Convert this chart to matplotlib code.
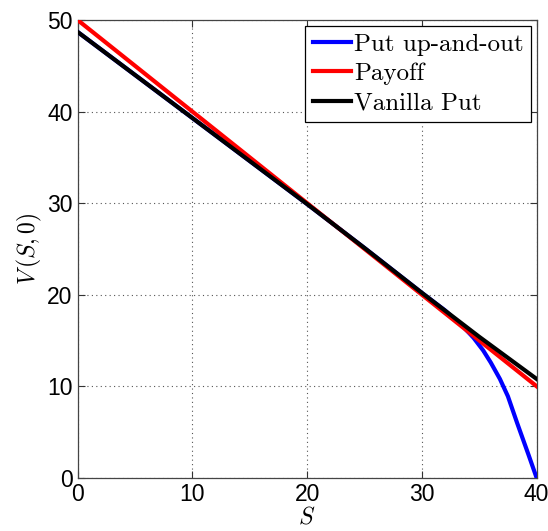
import matplotlib.pyplot as plt
import numpy as np

plt.rcParams['mathtext.fontset'] = 'cm'

# values
s_vanilla = [0, 10, 20, 25, 30, 35, 40]
v_vanilla = [48.7, 39.3, 29.9, 25.1, 20.2, 15.4, 10.8]

s_payoff = [0, 40]
v_payoff = [50, 10]

s_barrier = [0, 10, 20, 25, 30, 32, 33.6, 34.5, 35.35, 36, 36.8, 37.5, 38.3, 39.3, 40]
v_barrier = [48.7, 39.3, 29.9, 25.1, 20.2, 18.3, 16.5, 15.3, 13.9, 12.6, 10.8, 8.9, 6.0, 2.5, 0.0]

labels = ['Put up-and-out', 'Payoff', 'Vanilla Put']

fig = plt.figure(figsize=(5.48, 5.31), dpi=100)
ax = fig.add_axes([77.6 / 548, 1 - 477.8 / 531, (536.6 - 77.6) / 548, (477.8 - 20) / 531])

ax.plot(s_barrier, v_barrier, color='#0000ff', lw=3, label=labels[0], zorder=3)
ax.plot(s_payoff, v_payoff, color='#ff0000', lw=3, label=labels[1], zorder=4)
ax.plot(s_vanilla, v_vanilla, color='black', lw=3, label=labels[2], zorder=5)

ax.set_xlim(0, 40)
ax.set_ylim(0, 50)
ax.set_xticks(np.arange(0, 41, 10))
ax.set_yticks(np.arange(0, 51, 10))
ax.tick_params(direction='in', top=True, right=True, labelsize=16.5,
               length=5, width=0.8, colors='#333333', labelcolor='black')
ax.tick_params(axis='x', pad=4)
ax.tick_params(axis='y', pad=3.5)
for t in ax.get_xticklabels() + ax.get_yticklabels():
    t.set_fontfamily('Liberation Sans')
ax.grid(True, linestyle=(0, (1, 3)), color='#555555', lw=0.8)
for sp in ax.spines.values():
    sp.set_color('#444444')
    sp.set_linewidth(0.9)

ax.set_xlabel(r'$S$', fontsize=17, labelpad=-1)
ax.set_ylabel(r'$V\,(S,0)$', fontsize=17, labelpad=2.5)

leg = ax.legend(loc='upper right', prop={'family': 'cmr10', 'size': 18},
                fancybox=False, framealpha=1, edgecolor='black',
                handlelength=1.55, handletextpad=0.1, borderpad=0.3,
                labelspacing=0.28, borderaxespad=0.22)
leg.get_frame().set_linewidth(0.9)

fig.savefig('out.png', dpi=100)
